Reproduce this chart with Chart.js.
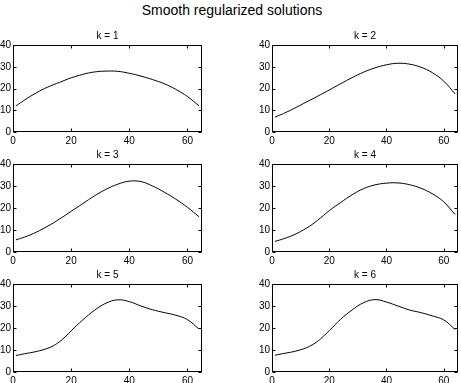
<!DOCTYPE html>
<html>
<head>
<meta charset="utf-8">
<script src="https://cdn.jsdelivr.net/npm/chart.js@4.4.1/dist/chart.umd.min.js"></script>
<style>
  html, body { margin: 0; padding: 0; background: #fff; overflow: hidden; }
  body { width: 461px; height: 383px; position: relative; }
  #mainTitle {
    position: absolute; left: 0; top: 2px; width: 464px; text-align: center;
    font: 14px "Liberation Sans", Arial, sans-serif; color: #000;
  }
  canvas { position: absolute; }
</style>
</head>
<body>
<div id="mainTitle">Smooth regularized solutions</div>

<canvas id="c1"></canvas>
<canvas id="c2"></canvas>
<canvas id="c3"></canvas>
<canvas id="c4"></canvas>
<canvas id="c5"></canvas>
<canvas id="c6"></canvas>

<script>
// sample positions along the solution index (1..64)
const xs = [1, 4, 8, 12, 14, 16, 18, 20, 24, 28, 32, 36, 40, 44, 48, 52, 56, 60, 64];

// one array per k
const k1 = [12, 14.7, 18, 20.7, 21.8, 22.8, 23.9, 24.9, 26.5, 27.6, 28, 27.9, 27, 25.7, 24.1, 22.2, 19.6, 16.3, 12];
const k2 = [6.8, 8.5, 11, 13.8, 15.1, 16.5, 17.9, 19.3, 22.2, 25, 27.5, 29.5, 30.9, 31.6, 31.2, 29.8, 27.3, 23.4, 17.5];
const k3 = [5.5, 6.8, 9, 11.8, 13.3, 15, 16.7, 18.5, 22, 25.5, 28.5, 30.8, 32.2, 32, 30, 27.2, 24, 20.3, 16];
const k4 = [4.8, 6, 8, 10.8, 12.5, 14.5, 16.6, 18.8, 22.5, 26, 28.8, 30.5, 31.3, 31.4, 30.6, 29, 26.5, 22.8, 17];
const k5 = [7.5, 8.3, 9.3, 10.8, 12, 13.8, 16, 18.7, 23.7, 28, 31.3, 32.8, 32, 30, 28.3, 27, 25.8, 23.8, 19.5];
const k6 = [7.6, 8.4, 9.4, 11, 12.3, 14, 16.3, 18.8, 24, 28.2, 31.5, 32.9, 31.8, 30, 28.2, 27, 25.5, 23.7, 19.3];

const titles = ['k = 1', 'k = 2', 'k = 3', 'k = 4', 'k = 5', 'k = 6'];
const series = [k1, k2, k3, k4, k5, k6];
const xTicks = [0, 20, 40, 60];
const yTicks = [0, 10, 20, 30, 40];

const FONT = '"Liberation Sans", Arial, sans-serif';

// axes boxes in page pixels [left, top, right, bottom]
const boxes = [
  [13, 45, 202, 132], [272, 45, 458, 132],
  [13, 164, 202, 252], [272, 164, 458, 252],
  [13, 284, 202, 372], [272, 284, 458, 372]
];
const PAD_L = 24, PAD_T = 20, PAD_R = 6, PAD_B = 16;

// matlab style frame: full box with inward ticks on all four sides
const framePlugin = {
  id: 'frame',
  afterDraw(chart, args, opts) {
    const { ctx, chartArea: a, scales } = chart;
    const l = Math.round(a.left) + 0.5, r = Math.round(a.right) - 0.5;
    const t = Math.round(a.top) + 0.5, b = Math.round(a.bottom) - 0.5;
    const len = 3;
    ctx.save();
    ctx.strokeStyle = '#000';
    ctx.lineWidth = 1;
    ctx.strokeRect(l, t, r - l, b - t);
    ctx.beginPath();
    scales.x.ticks.forEach(tk => {
      const px = Math.round(scales.x.getPixelForValue(tk.value)) + 0.5;
      ctx.moveTo(px, b); ctx.lineTo(px, b - len);
      ctx.moveTo(px, t); ctx.lineTo(px, t + len);
    });
    scales.y.ticks.forEach(tk => {
      const py = Math.round(scales.y.getPixelForValue(tk.value)) + 0.5;
      ctx.moveTo(l, py); ctx.lineTo(l + len, py);
      ctx.moveTo(r, py); ctx.lineTo(r - len, py);
    });
    ctx.stroke();
    // subplot title
    ctx.fillStyle = '#000';
    ctx.font = '10px ' + FONT;
    ctx.textAlign = 'center';
    ctx.textBaseline = 'middle';
    ctx.fillText(opts.text, (a.left + a.right) / 2, a.top - 9);
    ctx.restore();
  }
};

function drawPlot(i) {
  const canvas = document.getElementById('c' + (i + 1));
  const [L, T, R, B] = boxes[i];
  const w = R - L + PAD_L + PAD_R, h = B - T + PAD_T + PAD_B;
  canvas.width = w; canvas.height = h;
  canvas.style.left = (L - PAD_L) + 'px';
  canvas.style.top = (T - PAD_T) + 'px';
  canvas.style.width = w + 'px';
  canvas.style.height = h + 'px';

  const pts = xs.map((x, j) => ({ x, y: series[i][j] }));

  new Chart(canvas.getContext('2d'), {
    type: 'line',
    data: {
      datasets: [{
        data: pts,
        borderColor: '#000',
        borderWidth: 1,
        pointRadius: 0,
        fill: false,
        tension: 0.4
      }]
    },
    options: {
      responsive: false,
      animation: false,
      devicePixelRatio: 1,
      layout: { padding: { left: 0, top: PAD_T, right: PAD_R, bottom: 0 } },
      plugins: {
        legend: { display: false },
        tooltip: { enabled: false },
        frame: { text: titles[i] }
      },
      scales: {
        x: {
          type: 'linear', min: 0, max: 65,
          afterBuildTicks: s => { s.ticks = xTicks.map(v => ({ value: v })); },
          afterFit: s => { s.height = PAD_B; },
          grid: { display: false, drawTicks: false },
          border: { display: false },
          ticks: { color: '#000', padding: 3, maxRotation: 0, font: { size: 10, family: FONT } }
        },
        y: {
          min: 0, max: 40,
          afterBuildTicks: s => { s.ticks = yTicks.map(v => ({ value: v })); },
          afterFit: s => { s.width = PAD_L; },
          grid: { display: false, drawTicks: false },
          border: { display: false },
          ticks: { color: '#000', padding: 2, font: { size: 10, family: FONT } }
        }
      }
    },
    plugins: [framePlugin]
  });
}

for (let i = 0; i < 6; i++) drawPlot(i);
</script>
</body>
</html>
